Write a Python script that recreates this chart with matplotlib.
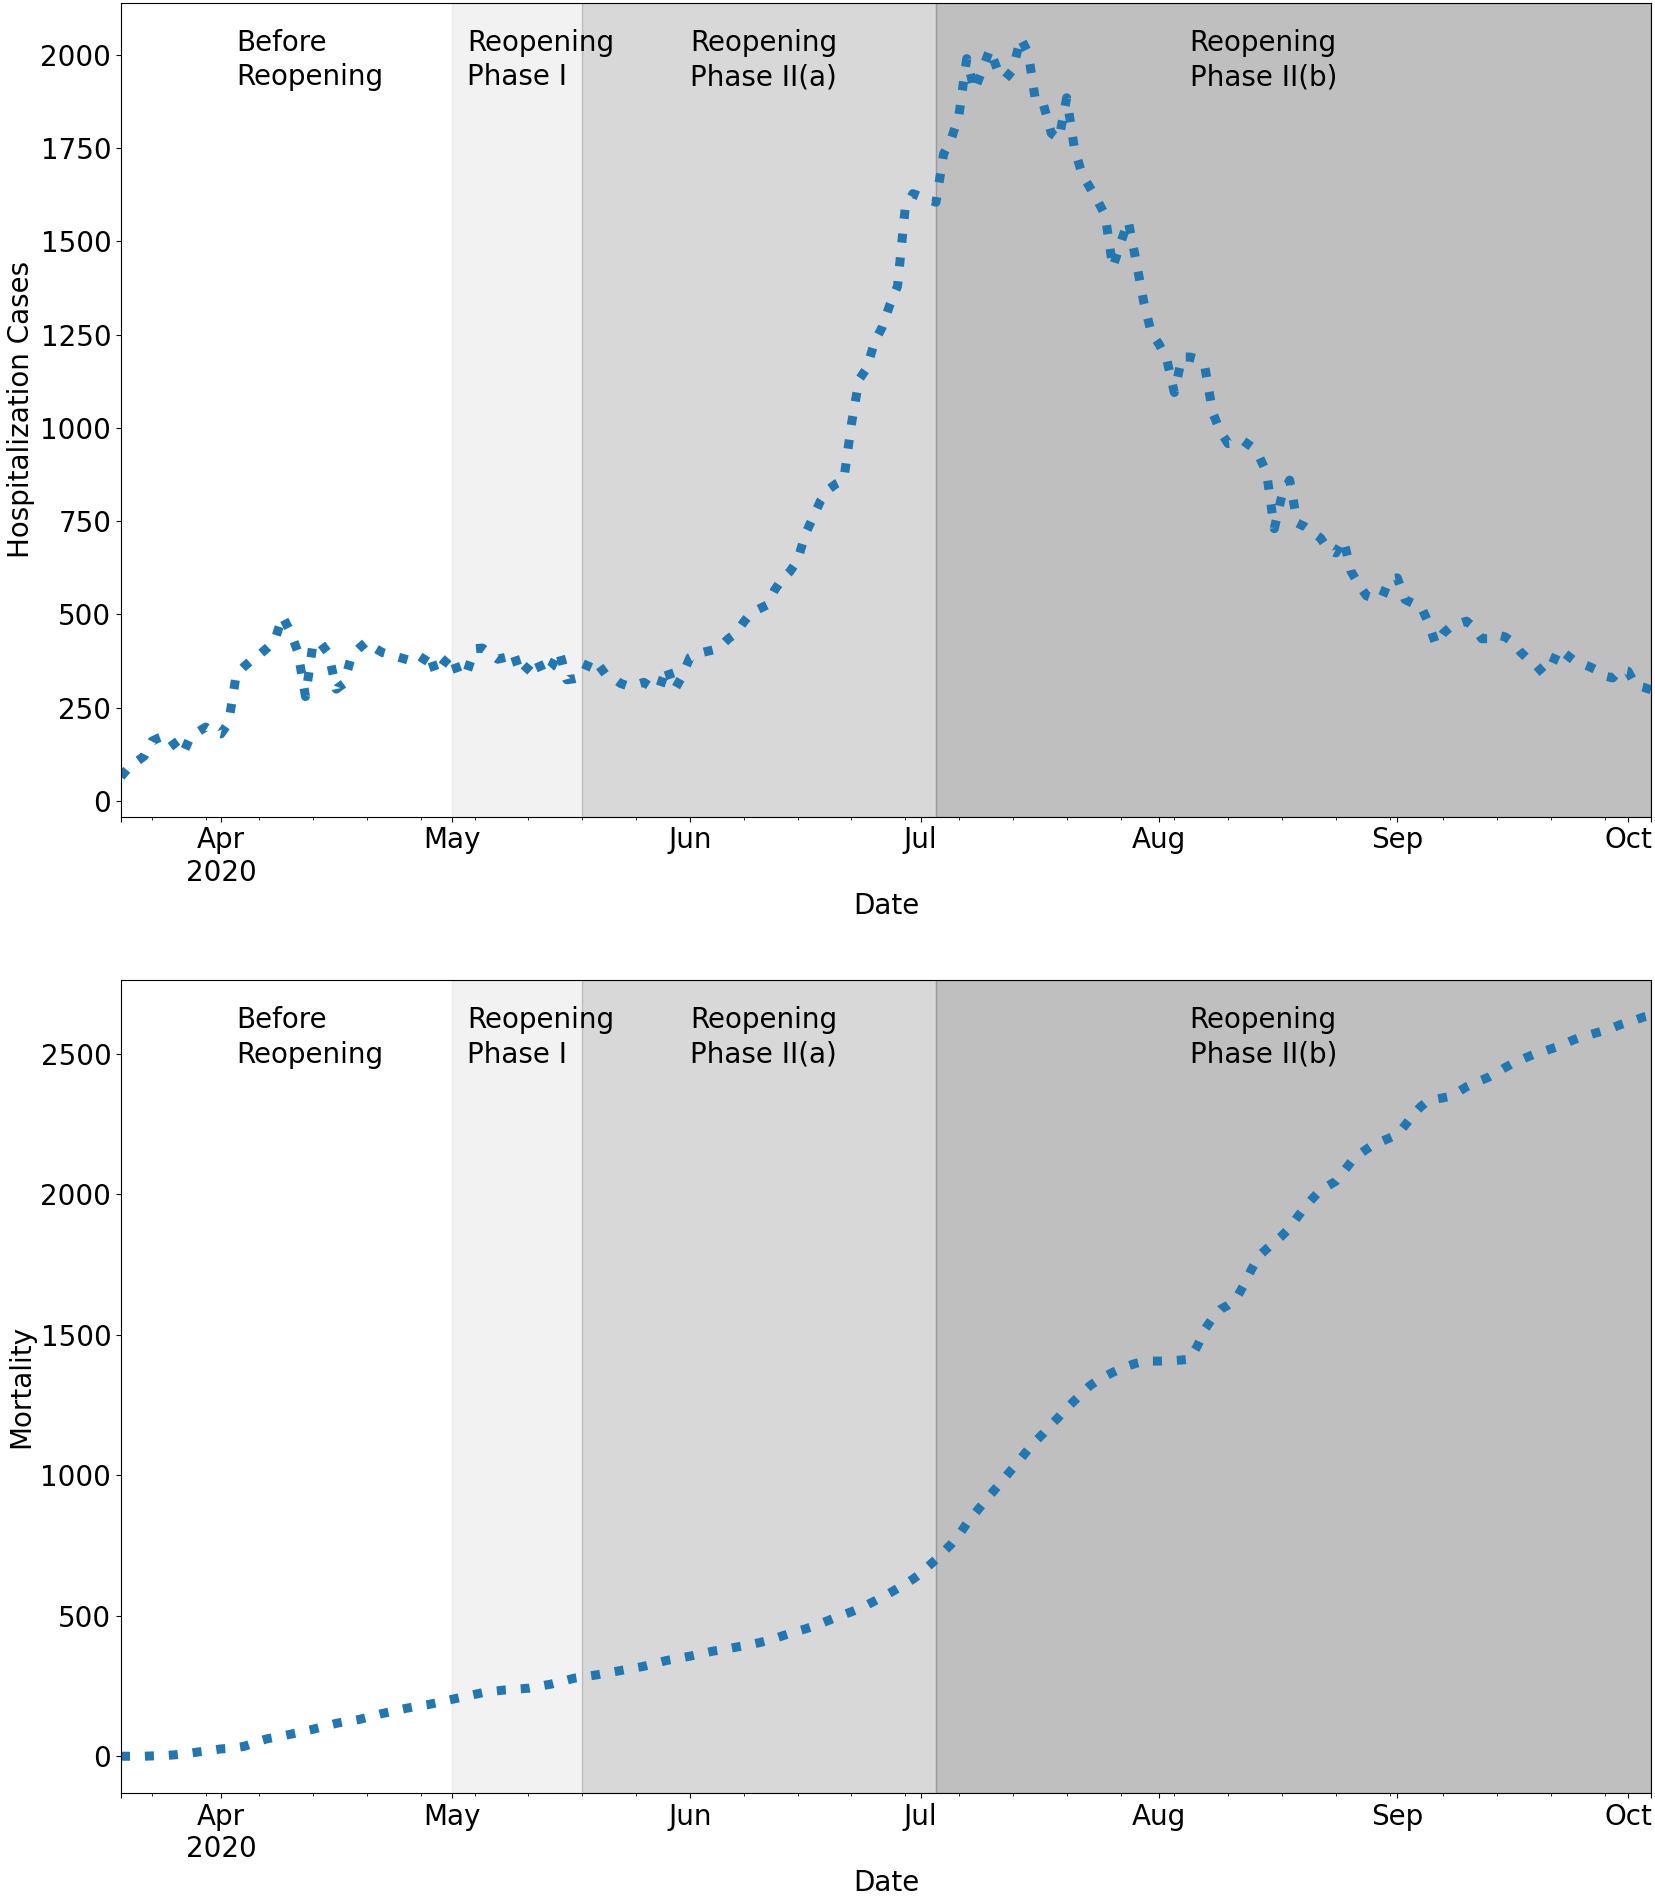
import numpy as np
import pandas as pd
import matplotlib
matplotlib.use('Agg')
import matplotlib.pyplot as plt

start_date = '2020-03-19'

hospitalization = [
    65, 90, 105, 120, 160, 170, 178, 150, 125, 170,
    185, 198, 185, 180, 210, 340, 360, 378, 392, 410,
    430, 495, 455, 400, 280, 425, 422, 395, 300, 315,
    390, 410, 428, 410, 398, 392, 386, 380, 374, 368,
    400, 340, 370, 393, 335, 345, 408, 410, 395, 380,
    385, 400, 338, 360, 385, 338, 360, 402, 325, 328,
    333, 380, 368, 340, 330, 315, 308, 312, 318, 305,
    300, 360, 298, 335, 385, 395, 400, 405, 415, 435,
    450, 480, 505, 515, 525, 565, 595, 615, 645, 715,
    760, 805, 835, 850, 860, 1010, 1130, 1160, 1230, 1270,
    1330, 1380, 1590, 1628, 1620, 1612, 1605, 1735, 1775, 1840,
    1990, 1905, 1958, 2015, 1960, 1935, 1960, 2045, 2005, 1870,
    1865, 1790, 1775, 1885, 1750, 1680, 1645, 1610, 1570, 1430,
    1495, 1555, 1450, 1340, 1255, 1225, 1185, 1095, 1190, 1190,
    1185, 1160, 1040, 990, 958, 960, 965, 950, 925, 880,
    730, 820, 860, 745, 735, 720, 705, 675, 665, 700,
    615, 580, 550, 543, 545, 595, 598, 540, 530, 525,
    480, 420, 450, 468, 475, 482, 465, 435, 435, 445,
    440, 426, 400, 380, 365, 342, 360, 408, 392, 376,
    368, 360, 350, 335, 330, 352, 348, 310, 305, 298,
]

mortality = [
    0, 0, 0, 0, 1, 2, 3, 5, 8, 11,
    15, 18, 22, 26, 28, 31, 35, 44, 54, 62,
    67, 72, 78, 84, 90, 96, 103, 110, 117, 122,
    126, 131, 138, 145, 152, 158, 164, 170, 175, 180,
    184, 190, 196, 202, 208, 214, 220, 226, 230, 233,
    236, 238, 240, 242, 247, 252, 257, 264, 271, 278,
    282, 286, 290, 295, 300, 305, 310, 315, 320, 327,
    334, 341, 346, 351, 356, 362, 368, 374, 378, 383,
    388, 393, 398, 404, 411, 419, 428, 437, 445, 453,
    462, 472, 483, 494, 504, 514, 525, 538, 552, 566,
    581, 597, 613, 630, 650, 676, 700, 728, 755, 788,
    828, 862, 895, 928, 960, 993, 1025, 1058, 1092, 1122,
    1150, 1180, 1208, 1238, 1265, 1292, 1318, 1337, 1352, 1366,
    1378, 1389, 1398, 1405, 1406, 1406, 1407, 1408, 1410, 1413,
    1460, 1520, 1560, 1590, 1605, 1625, 1675, 1730, 1780, 1805,
    1828, 1852, 1880, 1918, 1954, 1985, 2014, 2030, 2046, 2080,
    2115, 2140, 2160, 2178, 2188, 2200, 2212, 2245, 2280, 2310,
    2333, 2338, 2343, 2348, 2365, 2382, 2395, 2406, 2418, 2433,
    2450, 2465, 2477, 2489, 2500, 2508, 2517, 2526, 2538, 2550,
    2560, 2567, 2575, 2583, 2592, 2603, 2612, 2620, 2630, 2636,
]

phase_dates = ['2020-05-01', '2020-05-18', '2020-07-03']
phase_alphas = [0.1, 0.3, 0.5]
label_texts = ['Before\nReopening', 'Reopening\nPhase I',
               'Reopening\nPhase II(a)', 'Reopening\nPhase II(b)']
label_dates = ['2020-04-03', '2020-05-03', '2020-06-01', '2020-08-05']

hosp_ticks = list(range(0, 2001, 250))
mort_ticks = list(range(0, 2501, 500))

dates = pd.date_range(start_date, periods=len(hospitalization), freq='D', name='Date')
df = pd.DataFrame({'Hospitalization Cases': hospitalization,
                   'Mortality': mortality}, index=dates)

plt.rcParams['font.size'] = 20
fig = plt.figure(figsize=(16.55, 18.97), dpi=100)
ax1 = fig.add_axes([0.0731, 0.5695, 0.9245, 0.4291])
ax2 = fig.add_axes([0.0731, 0.0548, 0.9245, 0.4286])

configs = [
    (ax1, 'Hospitalization Cases', (-42, 2140), hosp_ticks),
    (ax2, 'Mortality', (-131, 2762), mort_ticks),
]

end_date = str(df.index[-1].date())
for ax, col, ylim, ticks in configs:
    df[col].plot(ax=ax, style=':', lw=6.5, color='#1f77b4')
    bounds = phase_dates + [end_date]
    for i in range(3):
        ax.axvspan(pd.Period(bounds[i], 'D').ordinal,
                   pd.Period(bounds[i + 1], 'D').ordinal,
                   color='grey', alpha=phase_alphas[i])
    for txt, d in zip(label_texts, label_dates):
        ax.text(pd.Period(d, 'D').ordinal, 0.968, txt,
                transform=ax.get_xaxis_transform(), va='top', ha='left',
                fontsize=20, linespacing=1.3)
    ax.set_ylim(*ylim)
    ax.set_yticks(ticks)
    ax.set_ylabel(col)
    ax.set_xlabel('Date')

fig.savefig('out.png', dpi=100)
